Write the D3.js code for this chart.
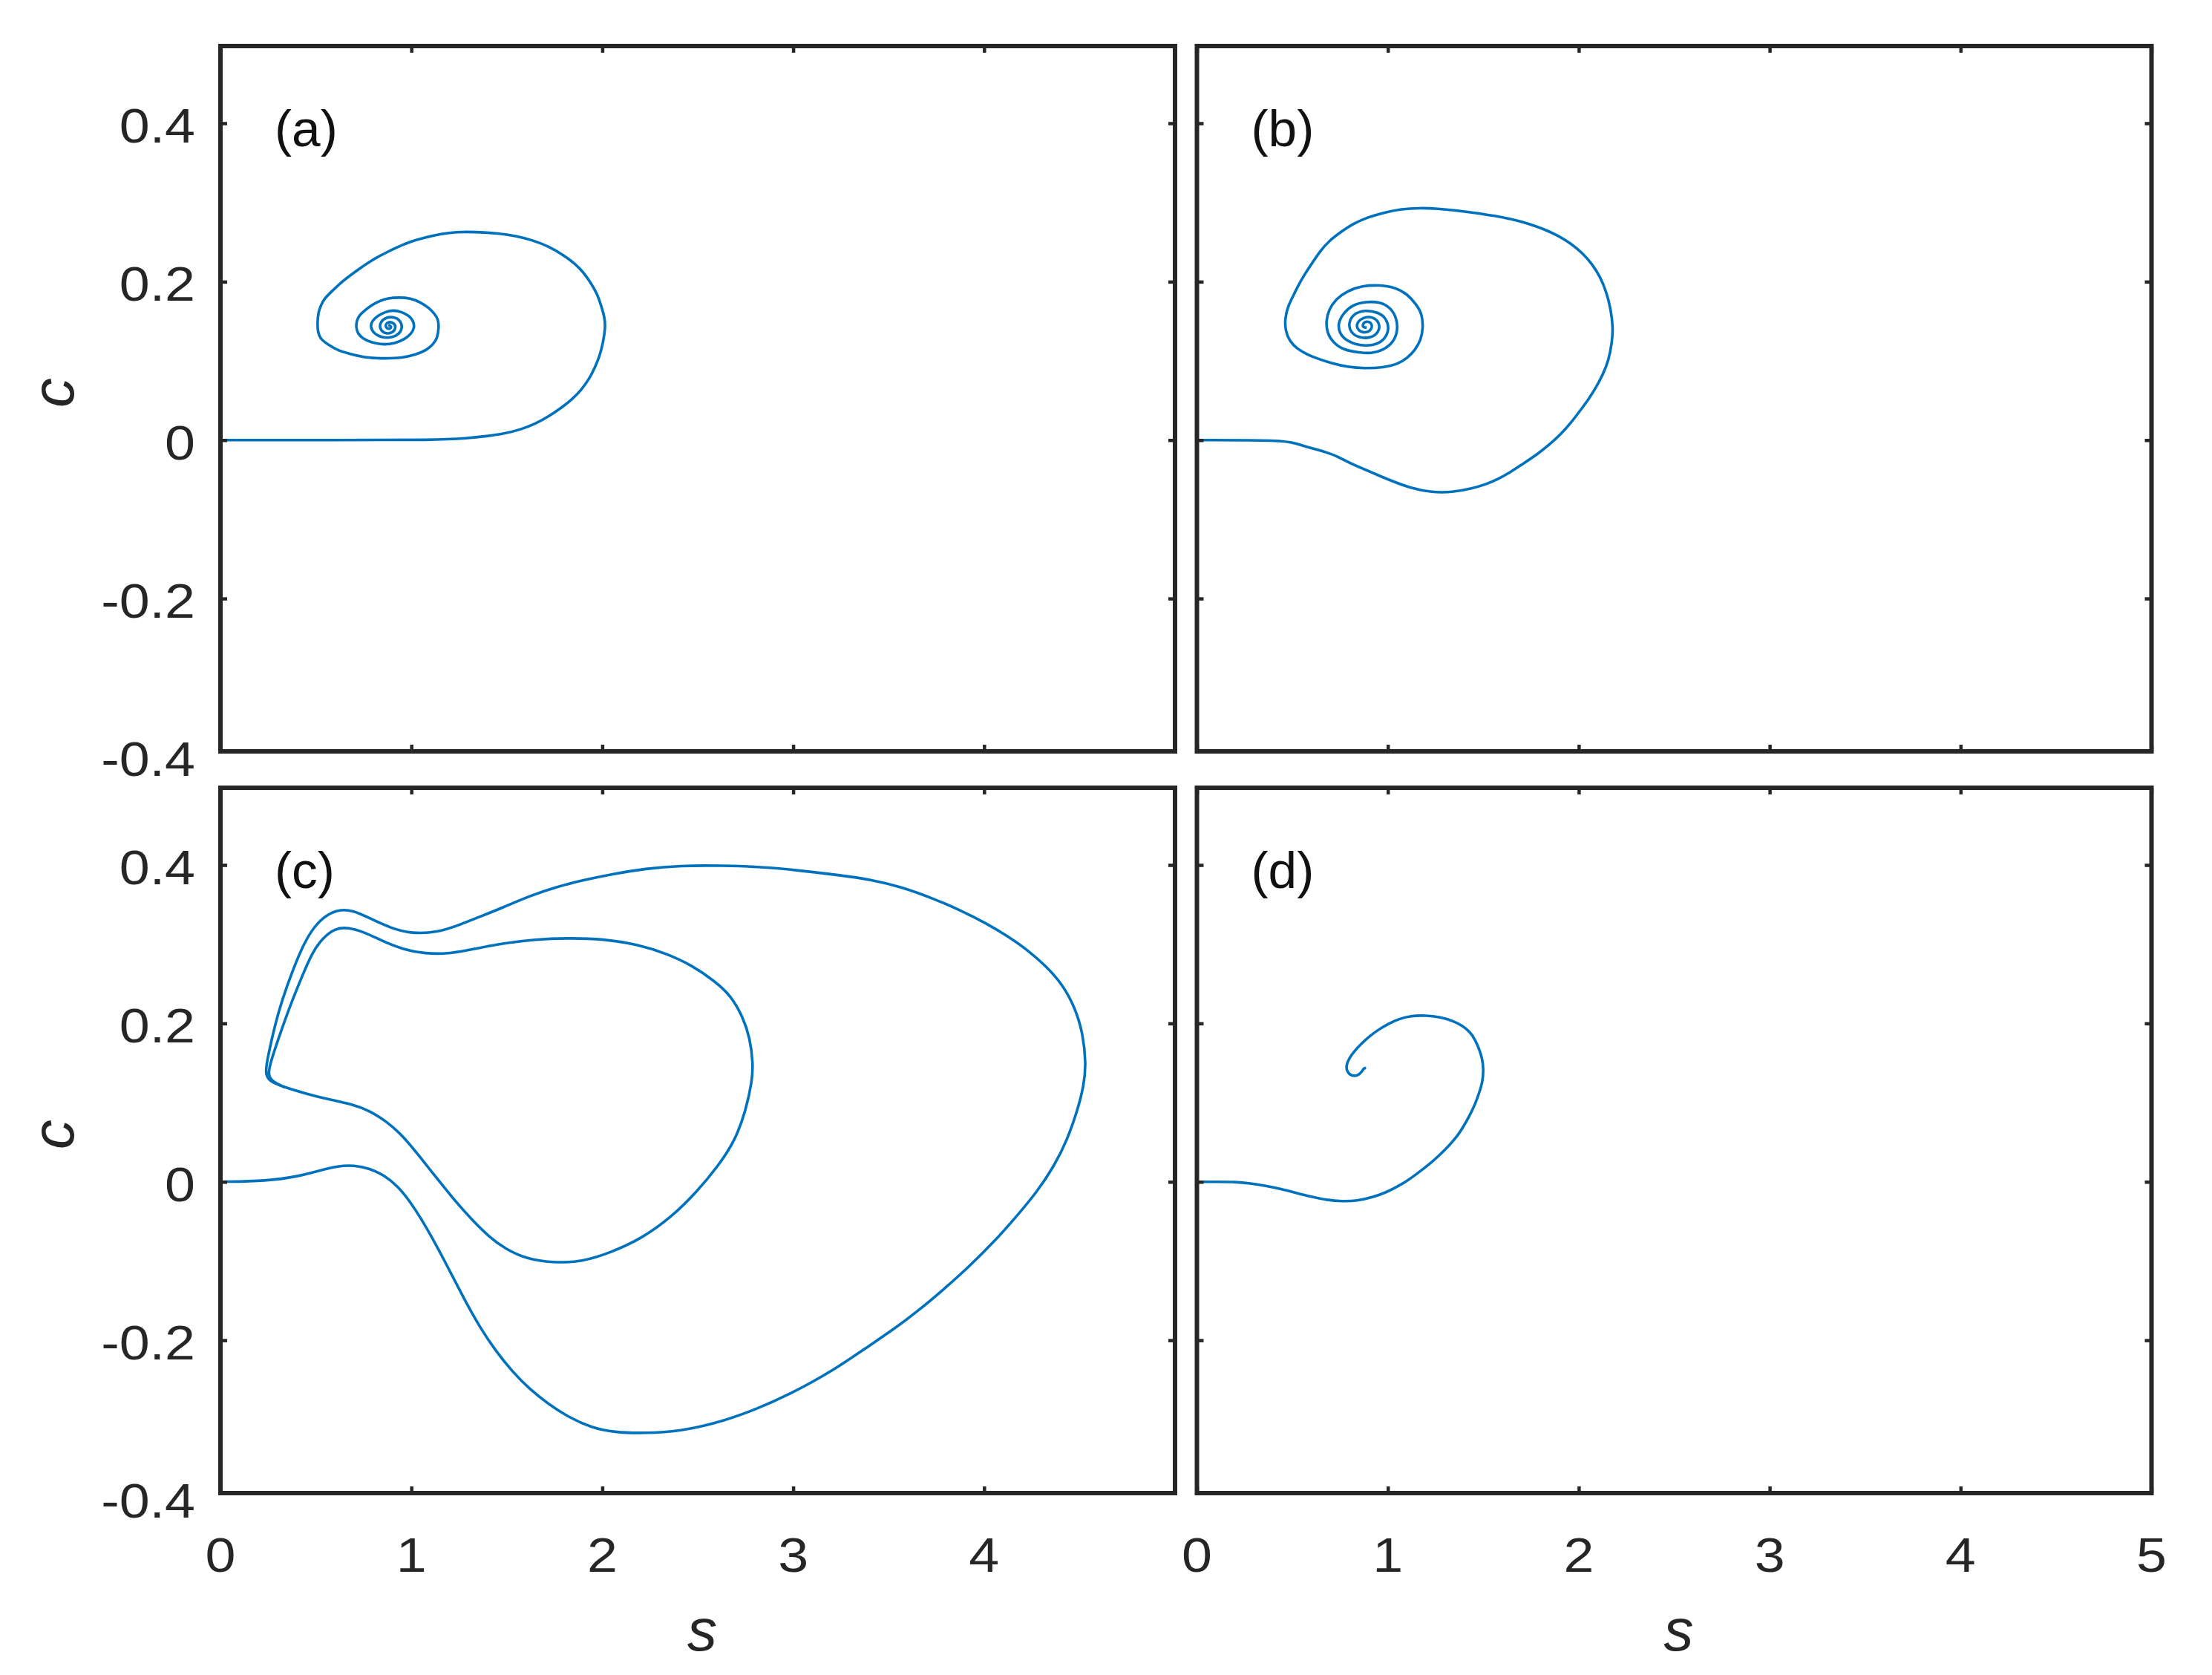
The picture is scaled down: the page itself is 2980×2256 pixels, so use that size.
<!DOCTYPE html>
<html>
<head>
<meta charset="utf-8">
<script src="https://cdn.jsdelivr.net/npm/d3@7"></script>
<style>
  body { margin: 0; background: #fff; }
  svg text { font-family: "Liberation Sans", Arial, Helvetica, sans-serif; fill: #262626; }
</style>
</head>
<body>
<svg id="chart"></svg>
<script>
// phase portraits (s, c)
var trajA = [[0,0],[0.6,0],[1.13,0],[1.292,0.0023],[1.396,0.005],[1.485,0.008],[1.575,0.0135],[1.649,0.0203],[1.723,0.0304],[1.783,0.0404],[1.842,0.0512],[1.894,0.0645],[1.931,0.0771],[1.961,0.0915],[1.986,0.1058],[2.005,0.1238],[2.016,0.1418],[2.013,0.1544],[1.993,0.1705],[1.973,0.1849],[1.938,0.1993],[1.901,0.2119],[1.857,0.2227],[1.797,0.2335],[1.723,0.2443],[1.634,0.2525],[1.545,0.2579],[1.456,0.2611],[1.337,0.2629],[1.233,0.2629],[1.159,0.2604],[1.07,0.2557],[0.995,0.2507],[0.921,0.2431],[0.847,0.2342],[0.787,0.2262],[0.728,0.2165],[0.676,0.2072],[0.624,0.1974],[0.579,0.1868],[0.542,0.178],[0.527,0.1705],[0.5125,0.1616],[0.508,0.149],[0.5095,0.1364],[0.523,0.1285],[0.547,0.1234],[0.579,0.1184],[0.6165,0.113],[0.691,0.108],[0.772,0.1037],[0.862,0.103],[0.951,0.1037],[1.025,0.108],[1.081,0.1137],[1.114,0.121],[1.136,0.1285],[1.144,0.1418],[1.141,0.1526],[1.1215,0.1594],[1.092,0.167],[1.047,0.1742],[0.995,0.1792],[0.936,0.1802],[0.876,0.1792],[0.832,0.1756],[0.787,0.1698],[0.755,0.1633],[0.728,0.158],[0.713,0.1508],[0.71,0.1418],[0.72,0.1346],[0.743,0.1285],[0.787,0.1234],[0.854,0.1202],[0.9135,0.122],[0.9655,0.1274],[0.998,0.1339],[1.0175,0.1418],[1.01,0.1508],[0.988,0.157],[0.951,0.1616],[0.906,0.1644],[0.8615,0.1616],[0.824,0.157],[0.795,0.1508],[0.784,0.1436],[0.802,0.1346],[0.847,0.1292],[0.899,0.1292],[0.936,0.1339],[0.954,0.1418],[0.943,0.1508],[0.9135,0.1554],[0.869,0.1554],[0.839,0.1497],[0.832,0.1418],[0.854,0.1346],[0.899,0.1346],[0.921,0.1418],[0.909,0.1483],[0.876,0.1497],[0.859,0.1436],[0.884,0.139],[0.899,0.1436],[0.879,0.1454]];

var trajB = [[0,0],[0.453,0],[0.517,-0.0042],[0.596,-0.01],[0.675,-0.015],[0.738,-0.0207],[0.802,-0.0293],[0.881,-0.0372],[0.96,-0.0456],[1.039,-0.0533],[1.119,-0.0604],[1.229,-0.0662],[1.34,-0.0659],[1.436,-0.0614],[1.515,-0.0558],[1.578,-0.0492],[1.642,-0.0405],[1.705,-0.0303],[1.784,-0.0178],[1.848,-0.0054],[1.905,0.0071],[1.958,0.0215],[2.006,0.0368],[2.053,0.0521],[2.093,0.0674],[2.128,0.0838],[2.156,0.1],[2.174,0.123],[2.18,0.1421],[2.168,0.1651],[2.145,0.1870],[2.112,0.2063],[2.069,0.2226],[2.018,0.2365],[1.958,0.2484],[1.895,0.2578],[1.816,0.2665],[1.737,0.2733],[1.657,0.2785],[1.562,0.2831],[1.452,0.287],[1.356,0.2900],[1.261,0.2923],[1.166,0.2931],[1.071,0.2918],[0.976,0.287],[0.897,0.2815],[0.818,0.2732],[0.754,0.2628],[0.691,0.2513],[0.643,0.2379],[0.604,0.2236],[0.564,0.2092],[0.532,0.1958],[0.501,0.1805],[0.477,0.169],[0.461,0.1536],[0.463,0.1383],[0.485,0.1249],[0.524,0.1153],[0.58,0.1077],[0.643,0.1019],[0.707,0.0969],[0.786,0.0923],[0.881,0.0904],[0.976,0.0916],[1.055,0.0962],[1.103,0.1038],[1.142,0.1134],[1.174,0.1268],[1.185,0.1421],[1.179,0.1594],[1.15,0.1709],[1.103,0.1843],[1.039,0.1927],[0.96,0.1958],[0.865,0.195],[0.786,0.1881],[0.73,0.1785],[0.691,0.1651],[0.675,0.1498],[0.683,0.1345],[0.714,0.123],[0.77,0.1134],[0.849,0.1107],[0.913,0.1092],[0.976,0.1134],[1.031,0.1238],[1.052,0.1383],[1.047,0.1536],[1.015,0.167],[0.96,0.1747],[0.881,0.1747],[0.818,0.1709],[0.77,0.1613],[0.738,0.1479],[0.746,0.1345],[0.786,0.1249],[0.849,0.1192],[0.928,0.1192],[0.984,0.1268],[1.008,0.1402],[0.992,0.1536],[0.952,0.1613],[0.881,0.1644],[0.818,0.1594],[0.794,0.1479],[0.802,0.1364],[0.849,0.1287],[0.913,0.1287],[0.952,0.1364],[0.96,0.146],[0.928,0.1556],[0.873,0.1556],[0.834,0.1479],[0.841,0.1383],[0.881,0.1345],[0.921,0.1402],[0.913,0.1498],[0.873,0.1498],[0.865,0.1421],[0.889,0.1421]];

var trajC = [[0,0],[0.245,0.001],[0.401,0.0065],[0.524,0.0145],[0.613,0.02],[0.7,0.021],[0.78,0.017],[0.86,0.008],[0.93,-0.006],[0.99,-0.024],[1.05,-0.046],[1.11,-0.071],[1.17,-0.098],[1.23,-0.126],[1.29,-0.154],[1.36,-0.184],[1.44,-0.213],[1.53,-0.240],[1.62,-0.262],[1.72,-0.281],[1.83,-0.298],[1.94,-0.310],[2.06,-0.3165],[2.228,-0.3175],[2.406,-0.3148],[2.585,-0.3057],[2.785,-0.2895],[2.986,-0.268],[3.209,-0.2384],[3.386,-0.2088],[3.52,-0.1873],[3.654,-0.163],[3.787,-0.1361],[3.921,-0.1072],[4.055,-0.075],[4.166,-0.0447],[4.278,-0.0124],[4.367,0.0199],[4.434,0.0522],[4.489,0.0899],[4.523,0.1222],[4.534,0.1491],[4.518,0.1867],[4.478,0.219],[4.411,0.2493],[4.322,0.2728],[4.233,0.2917],[4.122,0.3105],[4.01,0.3266],[3.877,0.3428],[3.721,0.3589],[3.565,0.3724],[3.409,0.3815],[3.253,0.3868],[3.03,0.3932],[2.83,0.3976],[2.629,0.3993],[2.406,0.3993],[2.228,0.3955],[2.05,0.3885],[1.894,0.3805],[1.76,0.3724],[1.627,0.3616],[1.471,0.3455],[1.359,0.3347],[1.248,0.324],[1.136,0.3148],[1.003,0.3132],[0.891,0.3202],[0.78,0.3331],[0.691,0.3428],[0.624,0.3439],[0.557,0.3374],[0.49,0.3223],[0.4345,0.2997],[0.379,0.2674],[0.323,0.2298],[0.285,0.1975],[0.25,0.1598],[0.234,0.1383],[0.25,0.1275],[0.334,0.1195],[0.446,0.1114],[0.579,0.1033],[0.691,0.0979],[0.78,0.0899],[0.869,0.0764],[0.958,0.0576],[1.047,0.0307],[1.136,0.0038],[1.225,-0.0231],[1.315,-0.0474],[1.404,-0.0689],[1.493,-0.085],[1.604,-0.0974],[1.738,-0.1022],[1.894,-0.1012],[2.05,-0.0888],[2.206,-0.0716],[2.362,-0.0447],[2.496,-0.0124],[2.607,0.0199],[2.696,0.0522],[2.752,0.0899],[2.785,0.1275],[2.79,0.1491],[2.774,0.1813],[2.736,0.2083],[2.674,0.2352],[2.585,0.254],[2.473,0.2728],[2.34,0.2879],[2.184,0.2997],[2.005,0.3067],[1.827,0.3078],[1.649,0.3062],[1.471,0.3008],[1.337,0.2944],[1.203,0.2879],[1.07,0.2879],[0.958,0.2933],[0.847,0.304],[0.758,0.3148],[0.668,0.3213],[0.602,0.3202],[0.535,0.3078],[0.479,0.289],[0.423,0.2567],[0.368,0.2244],[0.312,0.1867],[0.267,0.1544],[0.25,0.1383],[0.26,0.128],[0.334,0.1195]];

var trajD = [[0,0],[0.12,0],[0.2,0],[0.28,-0.002],[0.36,-0.005],[0.44,-0.009],[0.52,-0.014],[0.6,-0.019],[0.68,-0.023],[0.76,-0.0248],[0.84,-0.024],[0.92,-0.0195],[0.99,-0.0135],[1.045,-0.0066],[1.094,0],[1.158,0.0112],[1.217,0.0221],[1.268,0.033],[1.32,0.0455],[1.365,0.058],[1.398,0.0705],[1.427,0.083],[1.456,0.0971],[1.479,0.1127],[1.497,0.1268],[1.501,0.1424],[1.495,0.1549],[1.479,0.1674],[1.456,0.1799],[1.43,0.1893],[1.391,0.1971],[1.34,0.2034],[1.275,0.208],[1.197,0.2102],[1.12,0.2096],[1.055,0.2055],[1.003,0.1996],[0.952,0.1924],[0.9,0.183],[0.861,0.1743],[0.822,0.1643],[0.799,0.1565],[0.781,0.1471],[0.786,0.1387],[0.809,0.1337],[0.841,0.1337],[0.863,0.1387],[0.874,0.1436],[0.886,0.1436]];

var sTicks = [0, 1, 2, 3, 4, 5];
var cTicks = [0.4, 0.2, 0, -0.2, -0.4];
var panelNames = ["(a)", "(b)", "(c)", "(d)"];
var sLabel = "s";
var cLabel = "c";

var width = 2980, height = 2256;
var pw = 1286, ph = 950;
var blue = "#0072BD", ink = "#262626";

var svg = d3.select("#chart").attr("width", width).attr("height", height);
svg.append("rect").attr("width", width).attr("height", height).attr("fill", "#fff");

var x = d3.scaleLinear().domain([0, 5]).range([0, pw]);
var y = d3.scaleLinear().domain([-0.393, 0.4975]).range([ph, 0]);

var panels = [
  {name: panelNames[0], data: trajA, left: 297, top: 62, yLab: true, xLab: null},
  {name: panelNames[1], data: trajB, left: 1612.5, top: 62, yLab: false, xLab: null},
  {name: panelNames[2], data: trajC, left: 297, top: 1061, yLab: true, xLab: sTicks.slice(0, 5)},
  {name: panelNames[3], data: trajD, left: 1612.5, top: 1061, yLab: false, xLab: sTicks}
];

// basis spline smooths the hand-read points a little
var line = d3.line()
  .x(function(d) { return x(d[0]); })
  .y(function(d) { return y(d[1]); })
  .curve(d3.curveBasis);

var inside = function(v) { return v >= y.domain()[0] && v <= y.domain()[1]; };

panels.forEach(function(p, i) {
  var g = svg.append("g").attr("transform", "translate(" + p.left + "," + p.top + ")");

  g.append("clipPath").attr("id", "clip" + i)
    .append("rect").attr("width", pw).attr("height", ph);

  g.append("path")
    .datum(p.data)
    .attr("clip-path", "url(#clip" + i + ")")
    .attr("fill", "none")
    .attr("stroke", blue)
    .attr("stroke-width", 3.6)
    .attr("stroke-linejoin", "round")
    .attr("d", line);

  // inward ticks on all four sides
  var tk = 9;
  var axes = [
    [d3.axisBottom(x).tickValues(sTicks), "translate(0," + ph + ")"],
    [d3.axisTop(x).tickValues(sTicks), "translate(0,0)"],
    [d3.axisLeft(y).tickValues(cTicks.filter(inside)), "translate(0,0)"],
    [d3.axisRight(y).tickValues(cTicks.filter(inside)), "translate(" + pw + ",0)"]
  ];
  axes.forEach(function(a) {
    var ag = g.append("g").attr("transform", a[1])
      .call(a[0].tickSize(-tk).tickFormat(""));
    ag.select(".domain").remove();
    ag.selectAll(".tick line").attr("stroke", ink).attr("stroke-width", 4.5);
  });

  g.append("rect")
    .attr("width", pw).attr("height", ph)
    .attr("fill", "none").attr("stroke", ink).attr("stroke-width", 6);

  // panel tag
  g.append("text")
    .attr("transform", "translate(73," + 112 + ") scale(1.02,1)")
    .attr("dominant-baseline", "central")
    .style("font-size", "68px")
    .style("fill", "#111")
    .text(p.name);

  if (p.yLab) {
    g.selectAll(".ylab").data(cTicks).enter().append("text")
      .attr("class", "ylab")
      .attr("transform", function(d) { return "translate(-34," + (y(d) + 4) + ") scale(1.15,1)"; })
      .attr("text-anchor", "end")
      .attr("dominant-baseline", "central")
      .style("font-size", "64px")
      .text(function(d) { return d === 0 ? "0" : d3.format(".1f")(d).replace("\u2212", "-"); });

    g.append("text")
      .attr("transform", "translate(-226," + (ph / 2 - 8) + ") rotate(-90)")
      .attr("text-anchor", "middle")
      .attr("dominant-baseline", "central")
      .style("font-size", "80px")
      .style("font-style", "italic")
      .text(cLabel);
  }

  if (p.xLab) {
    g.selectAll(".xlab").data(p.xLab).enter().append("text")
      .attr("class", "xlab")
      .attr("transform", function(d) { return "translate(" + x(d) + "," + (ph + 84) + ") scale(1.15,1)"; })
      .attr("text-anchor", "middle")
      .attr("dominant-baseline", "central")
      .style("font-size", "64px")
      .text(function(d) { return d; });

    g.append("text")
      .attr("x", pw / 2 + 6)
      .attr("y", ph + 212)
      .attr("text-anchor", "middle")
      .style("font-size", "80px")
      .style("font-style", "italic")
      .text(sLabel);
  }
});
</script>
</body>
</html>
